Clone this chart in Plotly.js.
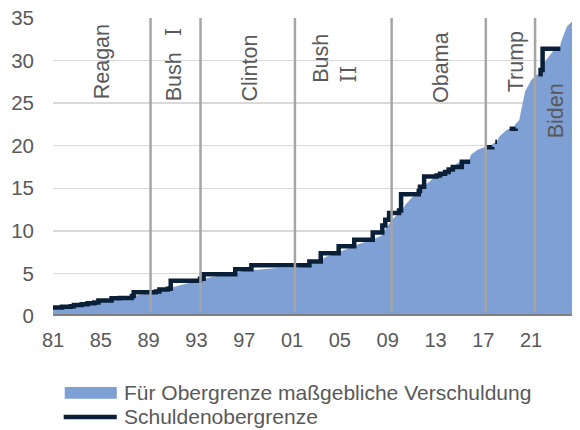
<!DOCTYPE html>
<html>
<head>
<meta charset="utf-8">
<script src="https://cdn.plot.ly/plotly-3.0.1.min.js"></script>
<style>html,body{margin:0;padding:0;background:#fff;}#chart{width:580px;height:430px;}</style>
</head>
<body>
<div id="chart"></div>
<script>
// Debt subject to limit (USD trillion)
const debtYears = [
  1981.0, 1981.5, 1982.0, 1982.5, 1983.0, 1983.5, 1984.0, 1984.5, 1985.0, 1985.5,
  1986.0, 1986.5, 1987.0, 1987.5, 1988.0, 1988.5, 1989.0, 1989.5, 1990.0, 1990.5,
  1990.85, 1991.0, 1991.5, 1992.0, 1992.5, 1993.0, 1993.5, 1994.0, 1994.5, 1995.0,
  1995.5, 1996.0, 1996.25, 1996.5, 1997.0, 1997.5, 1998.0, 1998.5, 1999.0, 1999.5,
  2000.0, 2000.5, 2001.0, 2001.5, 2002.0, 2002.45, 2002.5, 2003.0, 2003.38, 2003.5,
  2004.0, 2004.5, 2004.85, 2005.0, 2005.5, 2006.0, 2006.2, 2006.5, 2007.0, 2007.5,
  2008.0, 2008.5, 2008.8, 2009.0, 2009.5, 2009.95, 2010.2, 2010.5, 2011.0, 2011.38,
  2011.6, 2011.65, 2012.0, 2012.5, 2012.95, 2013.4, 2013.8, 2014.1, 2014.5, 2015.0,
  2015.2, 2015.83, 2015.87, 2016.0, 2016.5, 2017.0, 2017.2, 2017.7, 2017.75, 2018.0,
  2018.15, 2018.3, 2018.5, 2019.0, 2019.2, 2019.6, 2019.65, 2020.0, 2020.25, 2020.5,
  2021.0, 2021.5, 2021.62, 2021.8, 2022.0, 2022.5, 2023.0, 2023.42, 2023.46, 2023.75,
  2024.0, 2024.42
];
const debtValues = [
  0.93, 0.97, 1.03, 1.11, 1.21, 1.33, 1.43, 1.53, 1.68, 1.79,
  1.96, 2.07, 2.20, 2.30, 2.43, 2.55, 2.68, 2.80, 2.97, 3.15,
  3.22, 3.38, 3.55, 3.75, 3.92, 4.12, 4.30, 4.50, 4.62, 4.78,
  4.88, 4.90, 5.04, 5.14, 5.30, 5.37, 5.46, 5.49, 5.57, 5.60,
  5.68, 5.63, 5.66, 5.70, 5.90, 5.95, 6.10, 6.36, 6.40, 6.70,
  7.05, 7.25, 7.38, 7.58, 7.80, 8.15, 8.18, 8.39, 8.62, 8.86,
  9.14, 9.45, 10.10, 10.60, 11.50, 12.10, 12.40, 13.10, 13.90, 14.29,
  14.29, 14.60, 15.20, 15.80, 16.39, 16.70, 16.70, 17.20, 17.60, 18.10,
  18.11, 18.11, 18.60, 19.00, 19.50, 19.80, 19.81, 19.84, 20.20, 20.45,
  20.50, 21.00, 21.30, 21.90, 22.00, 22.03, 22.50, 23.00, 24.60, 26.40,
  27.70, 28.40, 28.40, 28.90, 29.60, 30.50, 31.38, 31.38, 32.00, 33.10,
  34.00, 34.60
];

// Debt ceiling (USD trillion); null = suspended
const ceilYears = [
  1981.0, 1981.75, 1982.5, 1982.75, 1983.4, 1983.9, 1984.45, 1984.8, 1985.9, 1986.6,
  1987.6, 1987.75, 1989.6, 1989.9, 1990.6, 1990.8, 1990.85, 1993.3, 1993.6, 1996.25,
  1997.6, 2002.45, 2003.4, 2004.9, 2006.2, 2007.75, 2008.55, 2008.8, 2009.12, 2009.95,
  2010.12, 2011.6, 2011.7, 2012.05, 2013.1, 2013.38, 2013.8, 2014.1, 2014.45, 2015.2,
  2015.9, 2015.95, 2017.2, 2017.75, 2017.8, 2018.0, 2018.15, 2018.2, 2019.2, 2019.7,
  2019.75, 2021.62, 2021.79, 2021.96, 2023.45
];
const ceilValues = [
  0.985, 1.08, 1.143, 1.29, 1.389, 1.49, 1.573, 1.823, 2.079, 2.111,
  2.352, 2.8, 2.87, 3.123, 3.195, 3.23, 4.145, 4.37, 4.9, 5.5,
  5.95, 6.4, 7.384, 8.184, 8.965, 9.815, 10.615, 11.315, 12.104, 12.394,
  14.294, 14.694, 15.194, 16.394, 16.5, 16.699, 16.9, 17.212, 17.5, 18.113,
  18.113, null, 19.809, 19.85, null, 20.456, 20.456, null, 21.988, 22.03,
  null, 28.401, 28.881, 31.381, 31.381
];

// Presidential terms (start of term as drawn) and labels
const termStarts = [1989.16, 1993.34, 2001.24, 2009.33, 2017.21, 2021.33];
const ROMAN = '<span style="font-family:\'DejaVu Serif\',\'Liberation Serif\',serif">';
const presidents = ['Reagan', 'Bush\u2002\u2005' + ROMAN + '\u2160</span>', 'Clinton',
                    'Bush<br>' + ROMAN + '\u2160\u2160</span>', 'Obama', 'Trump', 'Biden'];

const tickYears = [1981, 1985, 1989, 1993, 1997, 2001, 2005, 2009, 2013, 2017, 2021];
const tickLabels = ['81', '85', '89', '93', '97', '01', '05', '09', '13', '17', '21'];

const seriesNames = ['Für Obergrenze maßgebliche Verschuldung', 'Schuldenobergrenze'];

const FILL = '#7EA0D4';
const NAVY = '#0A2038';
const TXT = '#595959';
const FONT = 'Liberation Sans, Arial, sans-serif';

// vertical term lines
const vx = [], vy = [];
termStarts.forEach(t => { vx.push(t, t, null); vy.push(35, 0.5, null); });

const traces = [
  {x: debtYears, y: debtValues, type: 'scatter', mode: 'lines', fill: 'tozeroy',
   fillcolor: FILL, line: {width: 0, color: FILL}, name: seriesNames[0], hoverinfo: 'skip'},
  {x: ceilYears, y: ceilValues, type: 'scatter', mode: 'lines', connectgaps: false,
   line: {shape: 'hv', color: NAVY, width: 4.5}, name: seriesNames[1], hoverinfo: 'skip'},
  {x: vx, y: vy, type: 'scatter', mode: 'lines', line: {color: '#A5A5A5', width: 2.5},
   showlegend: false, hoverinfo: 'skip'}
];

const labelPos = [
  [1985.08, 25.25], [1991.05, 25.0], [1997.47, 25.0], [2004.6, 27.1],
  [2013.47, 24.75], [2019.75, 26.0], [2023.1, 20.6]
];
const annotations = presidents.map((p, i) => ({
  text: p, x: labelPos[i][0], y: labelPos[i][1], xref: 'x', yref: 'y',
  xanchor: 'center', yanchor: 'bottom', textangle: -90, align: 'left',
  showarrow: false, font: {family: FONT, size: 21.5, color: TXT}
}));
// legend texts
annotations.push(
  {text: seriesNames[0], xref: 'paper', yref: 'paper', x: 0.1325, y: -0.258,
   xanchor: 'left', yanchor: 'middle', showarrow: false, font: {family: FONT, size: 21, color: TXT}},
  {text: seriesNames[1], xref: 'paper', yref: 'paper', x: 0.1325, y: -0.3386,
   xanchor: 'left', yanchor: 'middle', showarrow: false, font: {family: FONT, size: 21, color: TXT}}
);

const shapes = [
  {type: 'line', xref: 'paper', yref: 'y', x0: 0, x1: 1, y0: 0, y1: 0,
   line: {color: '#808080', width: 4}, layer: 'above'},
  {type: 'rect', xref: 'paper', yref: 'paper', x0: 0.0226, x1: 0.1229, y0: -0.238, y1: -0.278,
   fillcolor: FILL, line: {width: 0}},
  {type: 'line', xref: 'paper', yref: 'paper', x0: 0.0206, x1: 0.1229, y0: -0.3386, y1: -0.3386,
   line: {color: NAVY, width: 4.5}}
];

const layout = {
  width: 580, height: 430,
  margin: {l: 53.3, r: 8.3, t: 17.7, b: 114},
  paper_bgcolor: '#ffffff', plot_bgcolor: '#ffffff',
  showlegend: false,
  font: {family: FONT, color: TXT, size: 20},
  xaxis: {range: [1981, 2024.42], tickmode: 'array', tickvals: tickYears, ticktext: tickLabels,
          showgrid: false, zeroline: false, showline: false, ticks: '',
          tickfont: {family: FONT, size: 20, color: TXT}, ticklabelstandoff: 10},
  yaxis: {range: [0, 35], tick0: 0, dtick: 5, showgrid: true, gridcolor: '#D9D9D9', gridwidth: 1.5,
          zeroline: false, showline: false, ticks: '',
          tickfont: {family: FONT, size: 20.5, color: TXT}, ticklabelstandoff: 18},
  shapes: shapes,
  annotations: annotations
};

Plotly.newPlot('chart', traces, layout, {displayModeBar: false, staticPlot: true});
</script>
</body>
</html>
